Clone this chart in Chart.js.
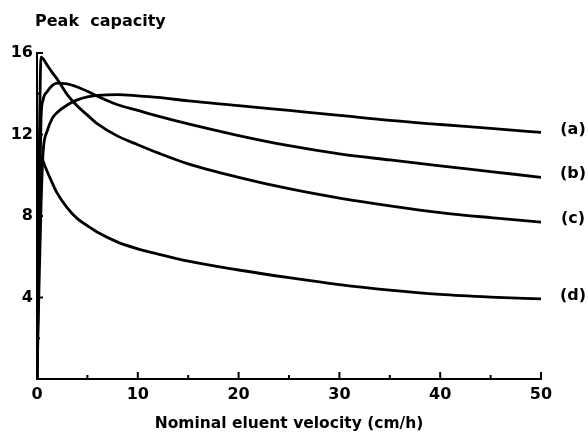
<!DOCTYPE html>
<html>
<head>
<meta charset="utf-8">
<script src="https://cdn.jsdelivr.net/npm/chart.js@4/dist/chart.umd.min.js"></script>
<style>
  html, body { margin: 0; padding: 0; background: #fff; }
  #wrap { width: 588px; height: 433px; position: relative; }
</style>
</head>
<body>
<div id="wrap"><canvas id="c" width="588" height="433"></canvas></div>
<script>
// ---- Data ----
const velocity = [0, 0.2, 0.4, 0.6, 1, 1.5, 2, 3, 4, 5, 6, 8, 10, 12, 15, 20, 25, 30, 35, 40, 45, 50];
const curveA = [0, 4.5, 8.5, 11.1, 12.15, 12.78, 13.08, 13.45, 13.7, 13.85, 13.92, 13.96, 13.9, 13.82, 13.65, 13.42, 13.18, 12.94, 12.69, 12.49, 12.3, 12.1];
const curveB = [0, 8.0, 12.8, 13.7, 14.1, 14.4, 14.52, 14.48, 14.33, 14.12, 13.88, 13.46, 13.18, 12.9, 12.52, 11.95, 11.45, 11.05, 10.75, 10.46, 10.18, 9.9];
const curveC = [0, 10.0, 15.8, 15.72, 15.41, 15.05, 14.72, 13.96, 13.4, 12.95, 12.52, 11.92, 11.5, 11.1, 10.56, 9.9, 9.34, 8.88, 8.5, 8.17, 7.92, 7.7];
const curveD = [0, 7.0, 11.0, 10.7, 10.2, 9.64, 9.12, 8.4, 7.87, 7.52, 7.2, 6.72, 6.39, 6.13, 5.78, 5.35, 4.97, 4.63, 4.36, 4.15, 4.02, 3.93];
const seriesLabels = ['(a)', '(b)', '(c)', '(d)'];
const xMajorTicks = [0, 10, 20, 30, 40, 50];
const xMinorTicks = [5, 15, 25, 35, 45];
const yMajorTicks = [4, 8, 12, 16];
const yMinorTicks = [2, 6, 10, 14];
const yTitle = 'Peak  capacity';
const xTitle = 'Nominal eluent velocity (cm/h)';

const series = [curveA, curveB, curveC, curveD];
const FONT = "'DejaVu Sans', sans-serif";

const datasets = series.map((vals, i) => ({
  label: seriesLabels[i],
  data: velocity.map((v, j) => ({ x: v, y: vals[j] })),
  borderColor: '#000',
  borderWidth: 2.8,
  pointRadius: 0,
  fill: false,
  cubicInterpolationMode: 'monotone'
}));

const decorPlugin = {
  id: 'decor',
  afterDraw(chart) {
    const ctx = chart.ctx;
    const xs = chart.scales.x, ys = chart.scales.y;
    const area = chart.chartArea;
    ctx.save();
    ctx.strokeStyle = '#000';
    ctx.lineWidth = 2;
    // inward tick marks
    xMajorTicks.forEach(v => { const p = xs.getPixelForValue(v); ctx.beginPath(); ctx.moveTo(p, area.bottom); ctx.lineTo(p, area.bottom - 7); ctx.stroke(); });
    xMinorTicks.forEach(v => { const p = xs.getPixelForValue(v); ctx.beginPath(); ctx.moveTo(p, area.bottom); ctx.lineTo(p, area.bottom - 4); ctx.stroke(); });
    yMajorTicks.forEach(v => { const p = ys.getPixelForValue(v); ctx.beginPath(); ctx.moveTo(area.left, p); ctx.lineTo(area.left + 6, p); ctx.stroke(); });
    yMinorTicks.forEach(v => { const p = ys.getPixelForValue(v); ctx.beginPath(); ctx.moveTo(area.left, p); ctx.lineTo(area.left + 3, p); ctx.stroke(); });
    // y title at top-left
    ctx.fillStyle = '#000';
    ctx.font = 'bold 16px ' + FONT;
    ctx.textAlign = 'left';
    ctx.textBaseline = 'middle';
    ctx.fillText(yTitle, 35, 22);
    // curve labels at right
    ctx.font = 'bold 16px ' + FONT;
    ctx.textAlign = 'center';
    chart.data.datasets.forEach((ds, i) => {
      const meta = chart.getDatasetMeta(i);
      const last = meta.data[meta.data.length - 1];
      ctx.fillText(seriesLabels[i], area.right + 32, last.y - 3);
    });
    ctx.restore();
  }
};

new Chart(document.getElementById('c'), {
  type: 'line',
  data: { datasets },
  options: {
    responsive: false,
    animation: false,
    events: [],
    layout: { padding: { left: 0, right: 47, top: 53, bottom: 0 } },
    plugins: { legend: { display: false }, tooltip: { enabled: false }, title: { display: false } },
    scales: {
      x: {
        type: 'linear', min: 0, max: 50,
        grid: { display: false, drawTicks: false },
        border: { display: true, color: '#000', width: 2 },
        afterBuildTicks: s => { s.ticks = xMajorTicks.map(v => ({ value: v })); },
        ticks: { color: '#000', font: { family: FONT, weight: 'bold', size: 16 }, padding: 6, maxRotation: 0 },
        title: { display: true, text: xTitle, color: '#000', font: { family: FONT, weight: 'bold', size: 15.5 }, padding: { top: 14, bottom: 0 } },
        afterFit: s => { s.height = 54; }
      },
      y: {
        type: 'linear', min: 0, max: 16,
        grid: { display: false, drawTicks: false },
        border: { display: true, color: '#000', width: 2 },
        afterBuildTicks: s => { s.ticks = yMajorTicks.map(v => ({ value: v })); },
        ticks: { color: '#000', font: { family: FONT, weight: 'bold', size: 16 }, padding: 4 },
        afterFit: s => { s.width = 37; }
      }
    }
  },
  plugins: [decorPlugin]
});
</script>
</body>
</html>
